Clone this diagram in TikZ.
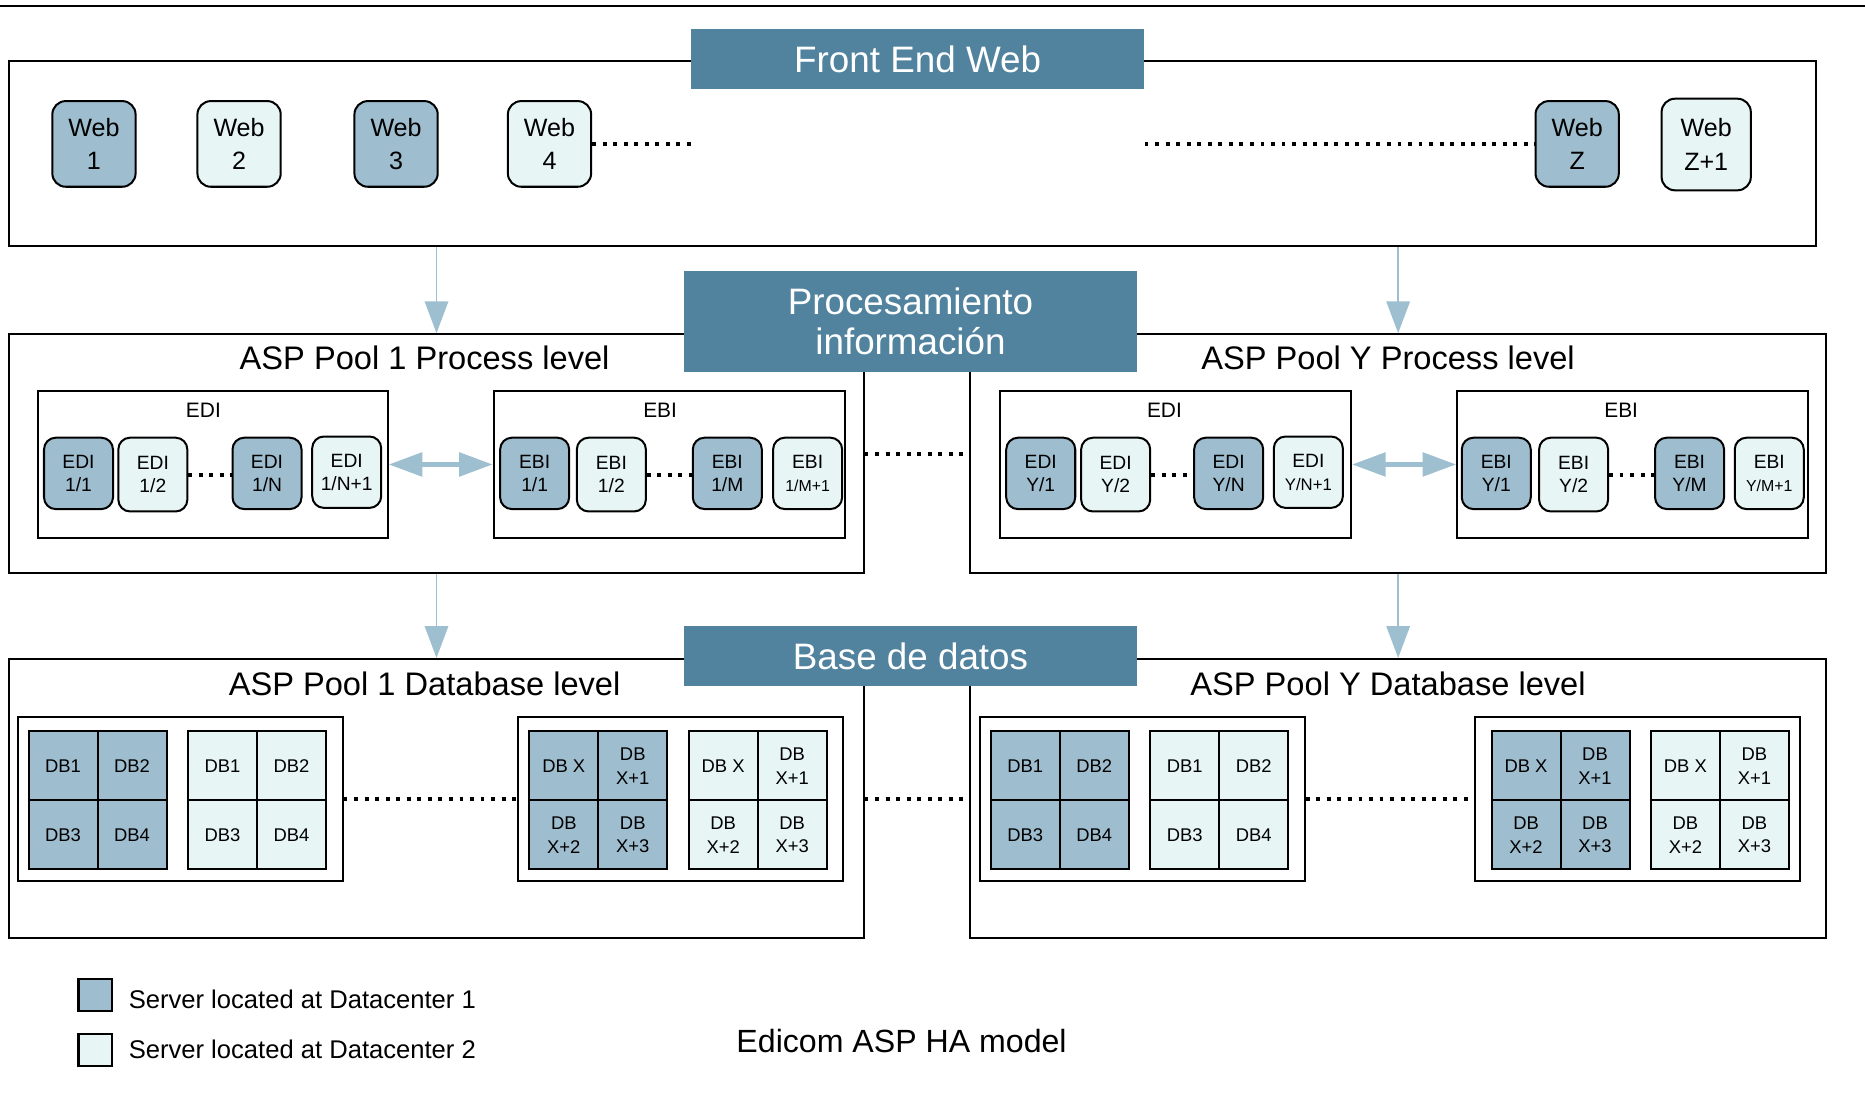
\documentclass[tikz,border=0pt]{standalone}
\usepackage{fontspec}
\setmainfont{Liberation Sans}
\usepackage{tikz}
\usetikzlibrary{arrows.meta, positioning}
\definecolor{ttlblue}{RGB}{81,131,159}
\definecolor{dcone}{RGB}{158,189,206}
\definecolor{dctwo}{RGB}{231,245,245}
\definecolor{arrblue}{RGB}{157,191,208}

\begin{document}
\begin{tikzpicture}[x=0.025cm, y=-0.025cm,
  pool/.style={draw, line width=1.2pt, inner sep=0pt},
  ttl/.style={fill=ttlblue, text=white, font=\fontsize{22}{24}\selectfont, align=center, inner sep=0pt, minimum width=9.525cm, minimum height=1.275cm},
  lvl/.style={font=\fontsize{19.5}{22}\selectfont, inner sep=0pt},
  grp/.style={font=\fontsize{12.5}{14}\selectfont, inner sep=0pt},
  web/.style={draw, line width=1.2pt, rounded corners=8pt, minimum width=1.75cm, minimum height=1.8cm, align=center, inner sep=0pt, font=\fontsize{15}{20}\selectfont},
  srv/.style={draw, line width=1.2pt, rounded corners=7pt, minimum width=1.45cm, minimum height=1.5cm, align=center, inner sep=0pt, font=\fontsize{11.5}{14}\selectfont},
  dbcell/.style={draw, line width=1.2pt, minimum size=1.45cm, align=center, inner sep=0pt, font=\fontsize{11}{14}\selectfont},
  dc1/.style={fill=dcone}, dc2/.style={fill=dctwo},
  dotline/.style={line width=2.3pt, dash pattern=on 2.3pt off 4pt},
  link/.style={draw=arrblue, line width=1.1pt, -{Triangle[width=14pt,length=19pt]}},
  sync/.style={draw=arrblue, line width=2.6pt, {Triangle[width=14pt,length=20pt]}-{Triangle[width=14pt,length=20pt]}}
]
  \useasboundingbox (0,0) rectangle (1568,940);
  \draw[line width=1.4pt] (0,5) -- (1568,5);

  % front end
  \node[pool, minimum width=37.975cm, minimum height=3.9cm] (fe) at (767.5,129) {};
  \node[ttl] (fettl) at (771.5,49.5) {Front End Web};
  \node[web, dc1] (w1) at (79,121) {Web\\1};
  \node[web, dc2] (w2) at (201,121) {Web\\2};
  \node[web, dc1] (w3) at (333,121) {Web\\3};
  \node[web, dc2] (w4) at (462,121) {Web\\4};
  \node[web, dc1] (wz) at (1326,121) {Web\\Z};
  \node[web, dc2, minimum width=1.875cm, minimum height=1.925cm] (wz1) at (1434.5,121.5) {Web\\Z+1};
  \draw[dotline] (w4.east) -- (w4.east -| fettl.west);
  \draw[dotline] (wz.west -| fettl.east) -- (wz.west);

  % process level
  \node[pool, minimum width=17.95cm, minimum height=5.025cm] (pp1) at (367,381.5) {};
  \node[pool, minimum width=17.975cm, minimum height=5.025cm] (ppy) at (1175.5,381.5) {};
  \node[ttl, minimum height=2.125cm] (prttl) at (765.5,270.5) {Procesamiento\\información};
  \node[lvl] (pp1lbl) at (357,301) {ASP Pool 1 Process level};
  \node[lvl] (ppylbl) at (1167,301) {ASP Pool Y Process level};

  \node[pool, minimum width=7.35cm, minimum height=3.075cm] (edi1) at (179,390.5) {};
  \node[pool, minimum width=7.375cm, minimum height=3.075cm] (ebi1) at (562.5,390.5) {};
  \node[pool, minimum width=7.375cm, minimum height=3.075cm] (ediy) at (988.5,390.5) {};
  \node[pool, minimum width=7.375cm, minimum height=3.075cm] (ebiy) at (1372.5,390.5) {};
  \node[grp] (edi1lbl) at (171,345) {EDI};
  \node[grp] (ebi1lbl) at (555,345) {EBI};
  \node[grp] (ediylbl) at (979,345) {EDI};
  \node[grp] (ebiylbl) at (1363,345) {EBI};

  \node[srv, dc1] (edi11) at (66,398) {EDI\\1/1};
  \node[srv, dc2, minimum height=1.55cm] (edi12) at (128.5,399) {EDI\\1/2};
  \node[srv, dc1] (edi1n) at (224.5,398) {EDI\\1/N};
  \node[srv, dc2] (edi1n1) at (291.5,397) {EDI\\1/N+1};
  \node[srv, dc1] (ebi11) at (449.5,398) {EBI\\1/1};
  \node[srv, dc2, minimum height=1.55cm] (ebi12) at (514,399) {EBI\\1/2};
  \node[srv, dc1] (ebi1m) at (611.5,398) {EBI\\1/M};
  \node[srv, dc2] (ebi1m1) at (679,398) {EBI\\\fontsize{9.5}{14}\selectfont 1/M+1};
  \node[srv, dc1] (ediy1) at (875,398) {EDI\\Y/1};
  \node[srv, dc2, minimum height=1.55cm] (ediy2) at (938,399) {EDI\\Y/2};
  \node[srv, dc1] (ediyn) at (1033,398) {EDI\\Y/N};
  \node[srv, dc2] (ediyn1) at (1100,397) {EDI\\\fontsize{10}{14}\selectfont Y/N+1};
  \node[srv, dc1] (ebiy1) at (1258,398) {EBI\\Y/1};
  \node[srv, dc2, minimum height=1.55cm] (ebiy2) at (1323,399) {EBI\\Y/2};
  \node[srv, dc1] (ebiym) at (1420.5,398) {EBI\\Y/M};
  \node[srv, dc2] (ebiym1) at (1487.5,398) {EBI\\\fontsize{9.5}{14}\selectfont Y/M+1};

  \draw[dotline] (edi12.east) -- (edi12.east -| edi1n.west);
  \draw[dotline] (ebi12.east) -- (ebi12.east -| ebi1m.west);
  \draw[dotline] (ediy2.east) -- (ediy2.east -| ediyn.west);
  \draw[dotline] (ebiy2.east) -- (ebiy2.east -| ebiym.west);
  \draw[dotline] (pp1.east) -- (ppy.west);
  \draw[sync] (edi1.east) -- (ebi1.west);
  \draw[sync] (ediy.east) -- (ebiy.west);

  % database level
  \node[pool, minimum width=17.95cm, minimum height=5.875cm] (db1) at (367,671.5) {};
  \node[pool, minimum width=17.975cm, minimum height=5.875cm] (dby) at (1175.5,671.5) {};
  \node[ttl] (dbttl) at (765.5,551.5) {Base de datos};
  \node[lvl] (db1lbl) at (357,575) {ASP Pool 1 Database level};
  \node[lvl] (dbylbl) at (1167,575) {ASP Pool Y Database level};

  \node[pool, minimum width=6.825cm, minimum height=3.45cm] (g1a) at (151.5,672) {};
  \node[pool, minimum width=6.825cm, minimum height=3.45cm] (g1b) at (572,672) {};
  \node[pool, minimum width=6.825cm, minimum height=3.45cm] (gya) at (960.5,672) {};
  \node[pool, minimum width=6.825cm, minimum height=3.45cm] (gyb) at (1376.5,672) {};

  \node[dbcell, dc1] (a11) at (53,644) {DB1};
  \node[dbcell, dc1] (a12) at (111,644) {DB2};
  \node[dbcell, dc1] (a13) at (53,702) {DB3};
  \node[dbcell, dc1] (a14) at (111,702) {DB4};
  \node[dbcell, dc2] (a21) at (187,644) {DB1};
  \node[dbcell, dc2] (a22) at (245,644) {DB2};
  \node[dbcell, dc2] (a23) at (187,702) {DB3};
  \node[dbcell, dc2] (a24) at (245,702) {DB4};
  \node[dbcell, dc1] (b11) at (474,644) {DB X};
  \node[dbcell, dc1] (b12) at (532,644) {DB\\X+1};
  \node[dbcell, dc1] (b13) at (474,702) {DB\\X+2};
  \node[dbcell, dc1] (b14) at (532,702) {DB\\X+3};
  \node[dbcell, dc2] (b21) at (608,644) {DB X};
  \node[dbcell, dc2] (b22) at (666,644) {DB\\X+1};
  \node[dbcell, dc2] (b23) at (608,702) {DB\\X+2};
  \node[dbcell, dc2] (b24) at (666,702) {DB\\X+3};

  \node[dbcell, dc1] (c11) at (862,644) {DB1};
  \node[dbcell, dc1] (c12) at (920,644) {DB2};
  \node[dbcell, dc1] (c13) at (862,702) {DB3};
  \node[dbcell, dc1] (c14) at (920,702) {DB4};
  \node[dbcell, dc2] (c21) at (996,644) {DB1};
  \node[dbcell, dc2] (c22) at (1054,644) {DB2};
  \node[dbcell, dc2] (c23) at (996,702) {DB3};
  \node[dbcell, dc2] (c24) at (1054,702) {DB4};
  \node[dbcell, dc1] (d11) at (1283,644) {DB X};
  \node[dbcell, dc1] (d12) at (1341,644) {DB\\X+1};
  \node[dbcell, dc1] (d13) at (1283,702) {DB\\X+2};
  \node[dbcell, dc1] (d14) at (1341,702) {DB\\X+3};
  \node[dbcell, dc2] (d21) at (1417,644) {DB X};
  \node[dbcell, dc2] (d22) at (1475,644) {DB\\X+1};
  \node[dbcell, dc2] (d23) at (1417,702) {DB\\X+2};
  \node[dbcell, dc2] (d24) at (1475,702) {DB\\X+3};

  \draw[dotline] (g1a.east) -- (g1b.west);
  \draw[dotline] (gya.east) -- (gyb.west);
  \draw[dotline] (db1.east) -- (dby.west);

  % level links
  \draw[link] (fe.south -| pp1.north) -- (pp1.north);
  \draw[link] (fe.south -| ppy.north) -- (ppy.north);
  \draw[link] (pp1.south) -- (db1.north);
  \draw[link] (ppy.south) -- (dby.north);

  % legend
  \node[draw, line width=1.2pt, dc1, minimum width=0.7cm, minimum height=0.675cm] (key1) at (80,836.5) {};
  \node[draw, line width=1.2pt, dc2, minimum width=0.7cm, minimum height=0.675cm] (key2) at (80,883) {};
  \node[anchor=west, inner sep=0pt, font=\fontsize{15.3}{18}\selectfont] (key1txt) at (108,840) {Server located at Datacenter 1};
  \node[anchor=west, inner sep=0pt, font=\fontsize{15.3}{18}\selectfont] (key2txt) at (108,882) {Server located at Datacenter 2};
  \node[inner sep=0pt, font=\fontsize{19.2}{22}\selectfont] (model) at (758,875) {Edicom ASP HA model};
\end{tikzpicture}
\end{document}
